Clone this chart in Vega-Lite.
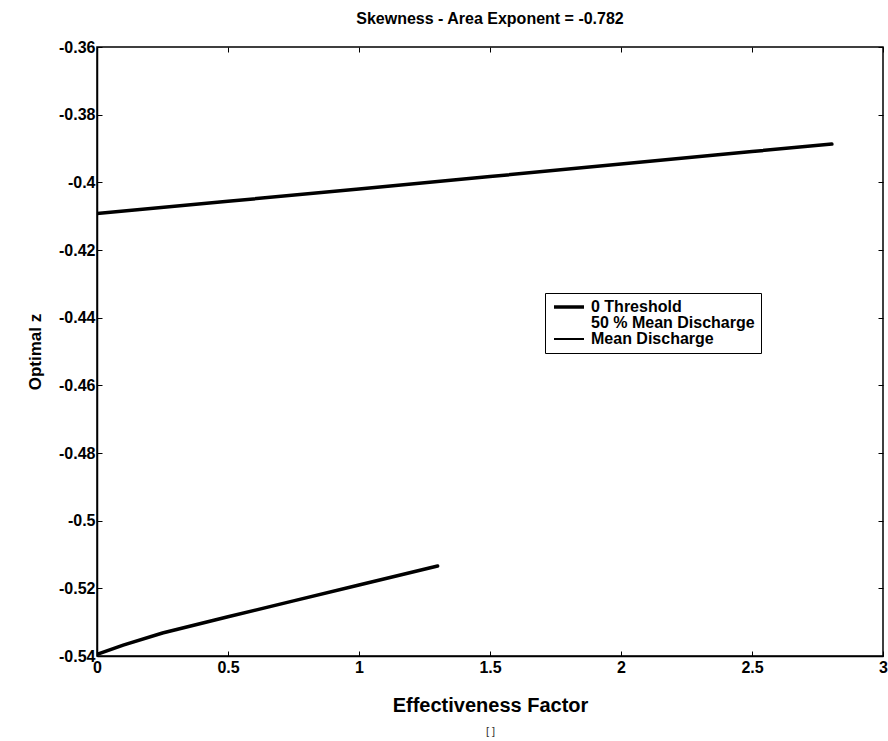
{
  "$schema": "https://vega.github.io/schema/vega-lite/v6.json",
  "autosize": "none",
  "width": 786,
  "height": 609,
  "padding": {"left": 97, "top": 47, "right": 5, "bottom": 85},
  "background": "white",
  "title": {
    "text": "Skewness - Area Exponent = -0.782",
    "font": "Liberation Sans",
    "fontSize": 16,
    "fontWeight": "bold",
    "color": "black",
    "anchor": "middle",
    "offset": 12
  },
  "data": {
    "values": [
      {"x": 0.0, "z": -0.4092, "series": "Mean Discharge"},
      {"x": 0.5, "z": -0.4056, "series": "Mean Discharge"},
      {"x": 1.0, "z": -0.4020, "series": "Mean Discharge"},
      {"x": 1.5, "z": -0.3983, "series": "Mean Discharge"},
      {"x": 2.0, "z": -0.3946, "series": "Mean Discharge"},
      {"x": 2.5, "z": -0.3909, "series": "Mean Discharge"},
      {"x": 2.805, "z": -0.3887, "series": "Mean Discharge"},
      {"x": 0.0, "z": -0.5395, "series": "0 Threshold"},
      {"x": 0.1, "z": -0.5368, "series": "0 Threshold"},
      {"x": 0.25, "z": -0.5332, "series": "0 Threshold"},
      {"x": 0.5, "z": -0.5284, "series": "0 Threshold"},
      {"x": 0.75, "z": -0.5237, "series": "0 Threshold"},
      {"x": 1.0, "z": -0.5190, "series": "0 Threshold"},
      {"x": 1.3, "z": -0.5134, "series": "0 Threshold"}
    ]
  },
  "encoding": {
    "x": {
      "field": "x", "type": "quantitative",
      "scale": {"domain": [0, 3], "nice": false, "zero": false}
    },
    "y": {
      "field": "z", "type": "quantitative",
      "scale": {"domain": [-0.54, -0.36], "nice": false, "zero": false}
    }
  },
  "layer": [
    {
      "mark": {"type": "line", "strokeCap": "round", "clip": true, "strokeWidth": 3.5},
      "encoding": {
        "x": {
          "field": "x", "type": "quantitative",
          "axis": {
            "orient": "bottom",
            "values": [0, 0.5, 1, 1.5, 2, 2.5, 3],
            "labelExpr": "format(datum.value, '~g')",
            "title": "Effectiveness Factor",
            "titleFontSize": 20,
            "titlePadding": 20,
            "grid": false
          }
        },
        "y": {
          "field": "z", "type": "quantitative",
          "axis": {
            "orient": "left",
            "values": [-0.54, -0.52, -0.5, -0.48, -0.46, -0.44, -0.42, -0.4, -0.38, -0.36],
            "labelExpr": "replace(format(datum.value, '.2~f'), '\u2212', '-')",
            "title": "Optimal z",
            "titleFontSize": 17,
            "titlePadding": 14,
            "grid": false
          }
        },
        "color": {
          "field": "series", "type": "nominal",
          "scale": {
            "domain": ["0 Threshold", "50 % Mean Discharge", "Mean Discharge"],
            "range": ["black", "white", "black"]
          },
          "legend": {
            "title": null,
            "orient": "none",
            "legendX": 448,
            "legendY": 246,
            "symbolType": "stroke",
            "symbolSize": 900,
            "symbolOffset": 10,
            "symbolStrokeWidth": 3.5,
            "labelFont": "Liberation Sans",
            "labelFontSize": 16,
            "labelFontWeight": "bold",
            "labelColor": "black",
            "labelOffset": 14,
            "strokeColor": "black",
            "fillColor": "white",
            "padding": 6,
            "rowPadding": -2,
            "labelLimit": 300,
            "encode": {
              "symbols": {
                "update": {
                  "strokeWidth": {"signal": "datum.value === 'Mean Discharge' ? 2 : 3.5"}
                }
              }
            }
          }
        }
      }
    },
    {
      "mark": {"type": "line", "opacity": 0},
      "encoding": {
        "x": {
          "field": "x", "type": "quantitative",
          "axis": {"orient": "top", "values": [0, 0.5, 1, 1.5, 2, 2.5, 3], "labels": false, "title": null, "grid": false, "domain": false}
        },
        "y": {
          "field": "z", "type": "quantitative",
          "axis": {"orient": "right", "values": [-0.54, -0.52, -0.5, -0.48, -0.46, -0.44, -0.42, -0.4, -0.38, -0.36], "labels": false, "title": null, "grid": false, "domain": false}
        }
      }
    },
    {
      "mark": {"type": "line", "opacity": 0},
      "encoding": {
        "x": {
          "field": "x", "type": "quantitative",
          "axis": {"orient": "bottom", "labels": false, "ticks": false, "domain": false, "grid": false, "title": "[ ]", "titleFontSize": 11, "titleFontWeight": "normal", "titleColor": "#333333", "titleY": 69}
        },
        "y": {
          "field": "z", "type": "quantitative",
          "axis": null
        }
      }
    }
  ],
  "resolve": {"axis": {"x": "independent", "y": "independent"}},
  "config": {
    "view": {"stroke": "black", "strokeWidth": 1.5},
    "axis": {
      "labelFont": "Liberation Sans",
      "labelFontSize": 16,
      "labelFontWeight": "bold",
      "labelColor": "black",
      "titleFont": "Liberation Sans",
      "titleFontWeight": "bold",
      "titleColor": "black",
      "domainColor": "black",
      "domainWidth": 1.5,
      "tickColor": "black",
      "tickSize": -5,
      "tickWidth": 1
    },
    "axisX": {"labelPadding": 8, "labelFlush": false},
    "axisY": {"labelPadding": 7}
  }
}
